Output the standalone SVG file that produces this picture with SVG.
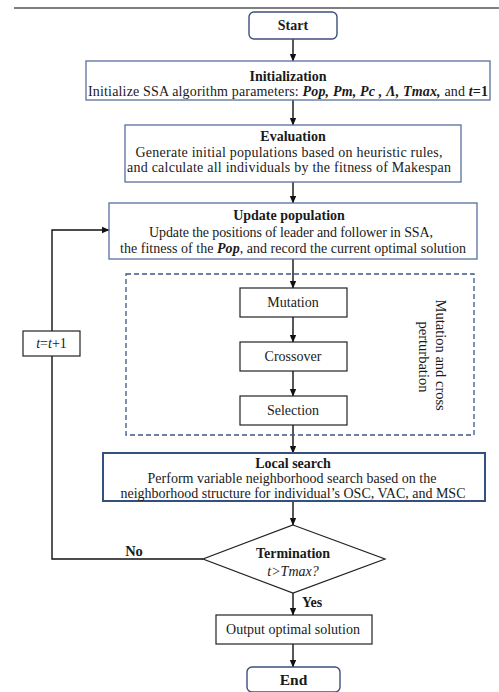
<svg xmlns="http://www.w3.org/2000/svg" width="499" height="692" viewBox="0 0 499 692">
<defs>
<marker id="ah" markerWidth="8" markerHeight="8" refX="7" refY="4" orient="auto" markerUnits="userSpaceOnUse">
<path d="M0,0.8 L7.5,4 L0,7.2 Z" fill="#111"/>
</marker>
<style>
text{font-family:"Liberation Serif","Times New Roman",serif;font-size:14px;fill:#1a1a1a;text-anchor:middle}
.b{font-weight:bold}
.i{font-style:italic}
.bi{font-weight:bold;font-style:italic}
.term{fill:#fff;stroke:#3c4f7c;stroke-width:1.4}
.blue{fill:#fff;stroke:#566f9c;stroke-width:1.3}
.blk{fill:#fff;stroke:#222;stroke-width:1.2}
.ln{fill:none;stroke:#111;stroke-width:1.4}
</style>
</defs>
<rect width="499" height="692" fill="#fff"/>
<line x1="14" y1="8" x2="499" y2="8" stroke="#555" stroke-width="1.6"/>

<g id="connectors">
<line class="ln" x1="293" y1="39" x2="293" y2="61" marker-end="url(#ah)"/>
<line class="ln" x1="293" y1="100" x2="293" y2="125" marker-end="url(#ah)"/>
<line class="ln" x1="293" y1="182" x2="293" y2="203" marker-end="url(#ah)"/>
<line class="ln" x1="293" y1="259" x2="293" y2="288" marker-end="url(#ah)"/>
<line class="ln" x1="293" y1="317" x2="293" y2="342" marker-end="url(#ah)"/>
<line class="ln" x1="293" y1="371" x2="293" y2="396" marker-end="url(#ah)"/>
<line class="ln" x1="293" y1="425" x2="293" y2="453" marker-end="url(#ah)"/>
<line class="ln" x1="293" y1="501" x2="293" y2="525" marker-end="url(#ah)"/>
<line class="ln" x1="293" y1="593" x2="293" y2="615" marker-end="url(#ah)"/>
<line class="ln" x1="293" y1="644" x2="293" y2="667" marker-end="url(#ah)"/>
<polyline class="ln" points="203,559 52,559 52,230 109,230" marker-end="url(#ah)"/>
<text class="b" x="134" y="556" style="font-size:14.5px">No</text>
<text class="b" x="312" y="607">Yes</text>
</g>

<g id="group-perturbation">
<rect x="126" y="274" width="348" height="161" fill="none" stroke="#3d5686" stroke-width="1.3" stroke-dasharray="5,3"/>
<text transform="translate(431,357) rotate(90)" style="font-size:14.5px">
<tspan x="0" y="-4.5">Mutation and cross</tspan>
<tspan x="0" y="12.5">perturbation</tspan>
</text>
</g>

<g id="start">
<rect class="term" x="249" y="12" width="88" height="27" rx="5"/>
<text class="b" x="293" y="30">Start</text>
</g>

<g id="initialization">
<rect class="blue" x="86" y="61" width="404" height="39"/>
<text class="b" x="288" y="81">Initialization</text>
<text x="288" y="95.5" textLength="400">Initialize SSA algorithm parameters: <tspan class="bi">Pop, Pm, Pc , Λ, Tmax,</tspan> and <tspan class="bi">t</tspan><tspan class="b">=1</tspan></text>
</g>

<g id="evaluation">
<rect class="blue" x="125" y="125" width="336" height="57"/>
<text class="b" x="293" y="141">Evaluation</text>
<text x="289" y="157" textLength="307">Generate initial populations based on heuristic rules,</text>
<text x="289" y="172" textLength="324">and calculate all individuals by the fitness of Makespan</text>
</g>

<g id="update">
<rect class="blue" x="109" y="203" width="368" height="56"/>
<text class="b" x="289" y="220">Update population</text>
<text x="291" y="237" textLength="284">Update the positions of leader and follower in SSA,</text>
<text x="293" y="253" textLength="346">the fitness of the <tspan class="bi">Pop</tspan>, and record the current optimal solution</text>
</g>

<g id="mutation">
<rect class="blk" x="240" y="288" width="107" height="29"/>
<text x="293" y="307">Mutation</text>
</g>
<g id="crossover">
<rect class="blk" x="240" y="342" width="107" height="29"/>
<text x="293" y="361">Crossover</text>
</g>
<g id="selection">
<rect class="blk" x="240" y="396" width="107" height="29"/>
<text x="293" y="415">Selection</text>
</g>

<g id="increment">
<rect class="blk" x="23" y="331" width="57" height="25"/>
<text x="51.5" y="348"><tspan class="i">t</tspan>=<tspan class="i">t</tspan>+1</text>
</g>

<g id="local-search">
<rect x="103" y="453" width="382" height="48" fill="#fff" stroke="#34507f" stroke-width="2"/>
<text class="b" x="293" y="467.5">Local search</text>
<text x="292" y="482.5" textLength="289">Perform variable neighborhood search based on the</text>
<text x="293" y="497.5" textLength="345">neighborhood structure for individual’s OSC, VAC, and MSC</text>
</g>

<g id="termination">
<polygon points="293,525 385,559 293,593 203,559" fill="#fff" stroke="#222" stroke-width="1.2"/>
<text class="b" x="293" y="557.5">Termination</text>
<text class="i" x="293" y="575.5">t&gt;Tmax?</text>
</g>

<g id="output">
<rect class="blk" x="216" y="615" width="156" height="29"/>
<text x="293" y="634">Output optimal solution</text>
</g>

<g id="end">
<rect class="term" x="247" y="667" width="93" height="25" rx="5"/>
<text class="b" x="293.5" y="684.5" style="font-size:15.5px">End</text>
</g>
</svg>
